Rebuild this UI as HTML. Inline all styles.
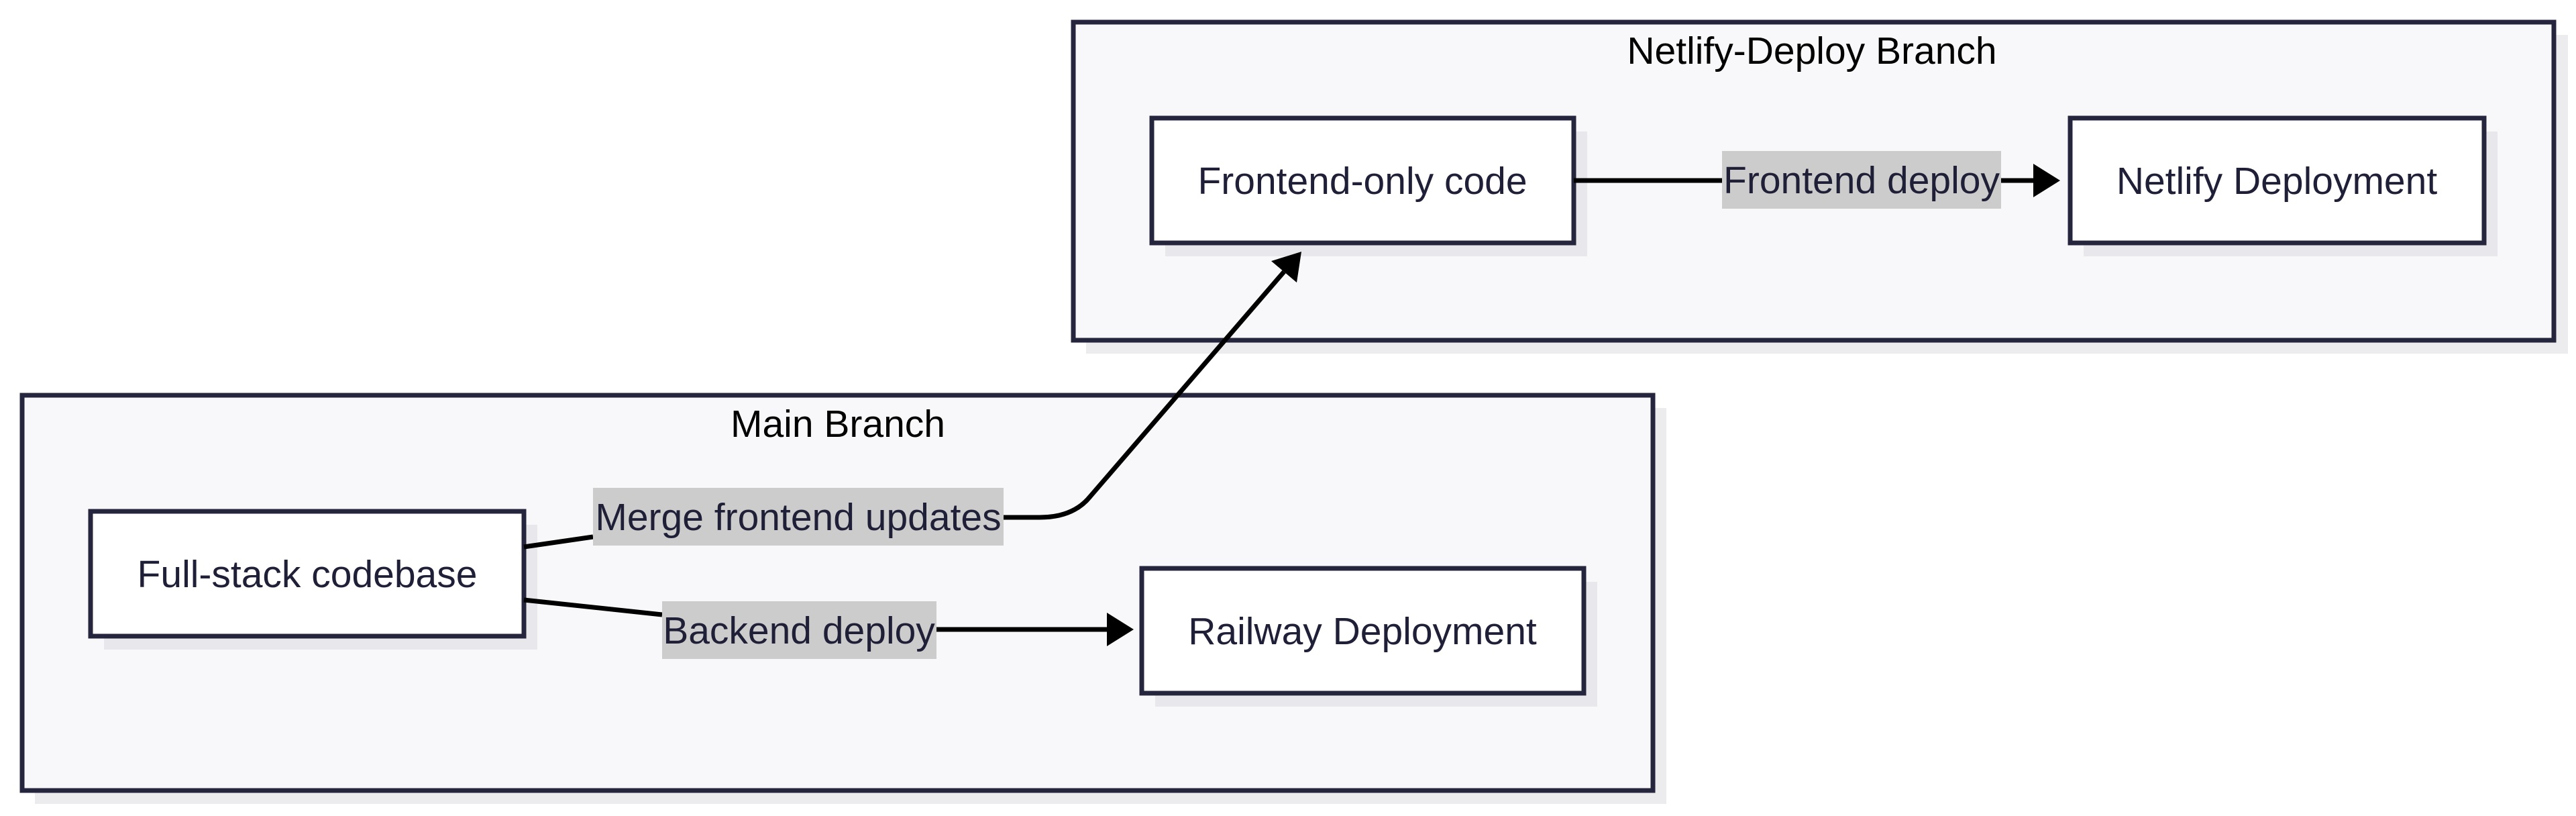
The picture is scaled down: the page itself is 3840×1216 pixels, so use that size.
<!DOCTYPE html>
<html><head><meta charset="utf-8"><style>
html,body{margin:0;padding:0;background:#fff;}
svg{display:block;}
text{font-family:"Liberation Sans",Arial,sans-serif;font-size:57px;fill:#1f1f38;}
</style></head><body>
<svg width="3840" height="1216" viewBox="0 0 3840 1216" xmlns="http://www.w3.org/2000/svg">
<!-- group shadows -->
<rect x="1619" y="52" width="2209" height="475" fill="#ececef"/>
<rect x="52" y="608" width="2432" height="590" fill="#ececef"/>
<!-- groups -->
<rect x="1600" y="33" width="2207" height="474" fill="#f8f8fa" stroke="#25253d" stroke-width="7"/>
<rect x="33" y="589" width="2431" height="589" fill="#f8f8fa" stroke="#25253d" stroke-width="7"/>
<text x="2701" y="95" text-anchor="middle" fill="#000" style="fill:#000">Netlify-Deploy Branch</text>
<text x="1249" y="651" text-anchor="middle" style="fill:#000">Main Branch</text>
<!-- node shadows -->
<rect x="155" y="782" width="646" height="186" fill="#e8e8ec"/>
<rect x="1722" y="867" width="659" height="186" fill="#e8e8ec"/>
<rect x="1737" y="196" width="629" height="186" fill="#e8e8ec"/>
<rect x="3106" y="196" width="617" height="186" fill="#e8e8ec"/>
<!-- nodes -->
<rect x="135" y="762" width="646" height="186" fill="#fff" stroke="#25253d" stroke-width="7"/>
<rect x="1702" y="847" width="659" height="186" fill="#fff" stroke="#25253d" stroke-width="7"/>
<rect x="1717" y="176" width="629" height="186" fill="#fff" stroke="#25253d" stroke-width="7"/>
<rect x="3086" y="176" width="617" height="186" fill="#fff" stroke="#25253d" stroke-width="7"/>
<text x="458" y="875" text-anchor="middle">Full-stack codebase</text>
<text x="2031" y="960" text-anchor="middle">Railway Deployment</text>
<text x="2031" y="289" text-anchor="middle">Frontend-only code</text>
<text x="3394" y="289" text-anchor="middle">Netlify Deployment</text>
<!-- edges -->
<g stroke="#000" stroke-width="7" fill="none">
<path d="M781 815 L884 800"/>
<path d="M1496 771 L1550 771 Q1600 771 1625 740 L1914 405"/>
<path d="M781 894 L987 916"/>
<path d="M1396 938 L1652 938"/>
<path d="M2346 269 L2567 269"/>
<path d="M2983 269 L3033 269"/>
</g>
<polygon points="1940,375 1933,421 1895,389" fill="#000"/>
<polygon points="1690,938 1650,913 1650,963" fill="#000"/>
<polygon points="3071,269 3031,244 3031,294" fill="#000"/>
<!-- edge labels -->
<rect x="884" y="727" width="612" height="86" fill="#cccccc"/>
<rect x="987" y="896" width="409" height="86" fill="#cccccc"/>
<rect x="2567" y="225" width="416" height="86" fill="#cccccc"/>
<text x="1190" y="790" text-anchor="middle">Merge frontend updates</text>
<text x="1191" y="959" text-anchor="middle">Backend deploy</text>
<text x="2775" y="288" text-anchor="middle">Frontend deploy</text>
</svg>
</body></html>
